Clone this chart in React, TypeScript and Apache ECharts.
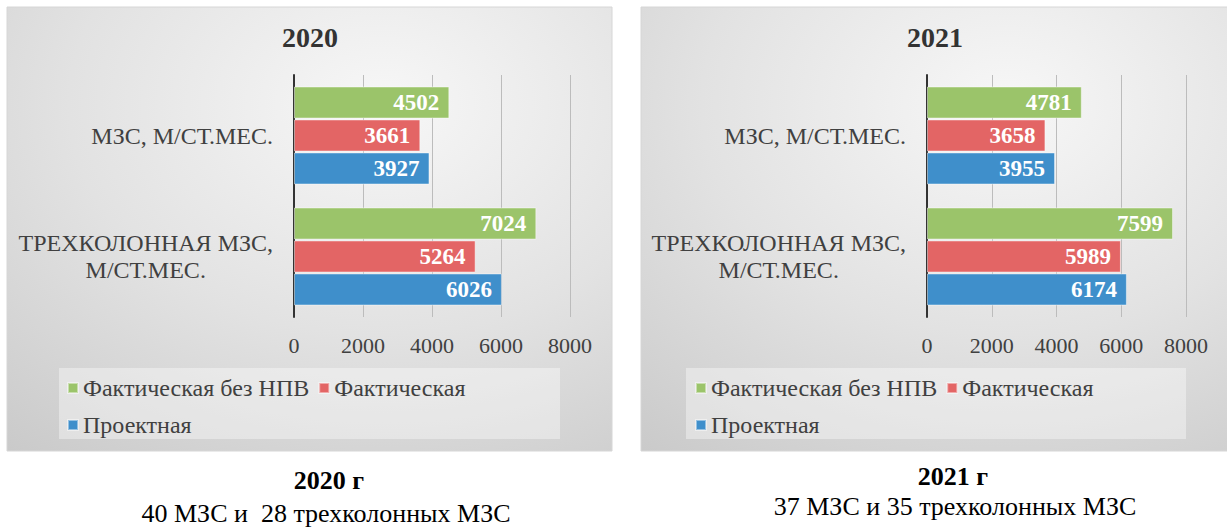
import React, { useEffect, useRef } from "react";
import * as echarts from "echarts";

const categories = ["МЗС, М/СТ.МЕС.", "ТРЕХКОЛОННАЯ МЗС,\nМ/СТ.МЕС."];
const seriesNames = ["Фактическая без НПВ", "Фактическая", "Проектная"];
const values2020 = {
  factNoNpv: [4502, 7024],
  fact: [3661, 5264],
  project: [3927, 6026],
};
const values2021 = {
  factNoNpv: [4781, 7599],
  fact: [3658, 5989],
  project: [3955, 6174],
};
const xTicks = { min: 0, max: 8000, interval: 2000 };
const panelTitles = ["2020", "2021"];
const captionTitles = ["2020 г", "2021 г"];
const captionTexts = ["40 МЗС и  28 трехколонных МЗС", "37 МЗС и 35 трехколонных МЗС"];

const FONT = '"Liberation Serif", "Times New Roman", serif';
const COLORS = ["#9bc46a", "#e36565", "#3f8fcb"];
const TEXT = "#404040";

function panelFill() {
  return new echarts.graphic.RadialGradient(0.62, 0.22, 1.15, [
    { offset: 0, color: "#f7f7f7" },
    { offset: 0.45, color: "#e2e2e2" },
    { offset: 1, color: "#c2c2c2" },
  ]);
}

export default function App() {
  const ref = useRef<HTMLDivElement>(null);
  useEffect(() => {
    if (!ref.current) return;
    const chart = echarts.init(ref.current, undefined, { renderer: "svg" });

    const grids = [
      { left: 294, top: 75, width: 276, height: 242 },
      { left: 927, top: 75, width: 259, height: 242 },
    ];
    const datasets = [values2020, values2021];

    const xAxes = grids.map((_, i) => ({
      type: "value",
      gridIndex: i,
      min: xTicks.min,
      max: xTicks.max,
      interval: xTicks.interval,
      axisLine: { show: false },
      axisTick: { show: false },
      splitLine: { show: true, lineStyle: { color: "#bcbcbc", width: 1 } },
      axisLabel: {
        fontSize: 22,
        color: TEXT,
        fontFamily: FONT,
        margin: 17,
        formatter: (v: number) => String(v),
      },
    }));

    const yAxes = grids.map((_, i) => ({
      type: "category",
      gridIndex: i,
      inverse: true,
      data: categories,
      axisLine: { show: true, lineStyle: { color: "#333333", width: 2 } },
      axisTick: { show: false },
      splitLine: { show: false },
      axisLabel: {
        margin: 21,
        color: TEXT,
        fontFamily: FONT,
        fontSize: 24,
        formatter: (v: string) =>
          v
            .split("\n")
            .map((l) => "{a|" + l + "}")
            .join("\n"),
        rich: {
          a: {
            fontSize: 24,
            lineHeight: 27,
            fontFamily: FONT,
            color: TEXT,
            align: "center",
          },
        },
      },
    }));

    const series: any[] = [];
    datasets.forEach((d, i) => {
      const arrs = [d.factNoNpv, d.fact, d.project];
      arrs.forEach((arr, k) => {
        series.push({
          type: "bar",
          name: seriesNames[k],
          xAxisIndex: i,
          yAxisIndex: i,
          data: arr,
          barGap: "3%",
          barCategoryGap: "19%",
          itemStyle: {
            color: COLORS[k],
            borderColor: "rgba(255,255,255,0.45)",
            borderWidth: 1,
          },
          label: {
            show: true,
            position: "insideRight",
            distance: 10,
            color: "#ffffff",
            fontFamily: FONT,
            fontWeight: "bold",
            fontSize: 23,
          },
        });
      });
    });

    const legendBase = {
      orient: "horizontal",
      top: 374,
      width: 400,
      padding: 0,
      itemWidth: 10,
      itemHeight: 10,
      itemGap: 9,
      icon: "rect",
      data: seriesNames,
      textStyle: { fontSize: 24, color: TEXT, fontFamily: FONT, lineHeight: 28 },
    };

    const captionStyle = (text: string, bold: boolean) => ({
      text,
      fill: "#000000",
      font: (bold ? "bold " : "") + '26px "Liberation Serif", serif',
      align: "center",
      verticalAlign: "middle",
    });

    const option: any = {
      animation: false,
      title: [
        {
          text: panelTitles[0],
          left: 310,
          top: 23,
          textAlign: "center",
          padding: 0,
          textStyle: { fontSize: 28, fontWeight: "bold", color: "#333333", fontFamily: FONT },
        },
        {
          text: panelTitles[1],
          left: 935,
          top: 23,
          textAlign: "center",
          padding: 0,
          textStyle: { fontSize: 28, fontWeight: "bold", color: "#333333", fontFamily: FONT },
        },
      ],
      legend: [
        { ...legendBase, left: 67 },
        { ...legendBase, left: 695 },
      ],
      grid: grids,
      xAxis: xAxes,
      yAxis: yAxes,
      series,
      graphic: [
        {
          type: "rect",
          z: -10,
          silent: true,
          shape: { x: 7, y: 7, width: 605, height: 444 },
          style: { fill: panelFill(), stroke: "#d6d6d6", lineWidth: 1 },
        },
        {
          type: "rect",
          z: -10,
          silent: true,
          shape: { x: 641, y: 7, width: 590, height: 444 },
          style: { fill: panelFill(), stroke: "#d6d6d6", lineWidth: 1 },
        },
        {
          type: "rect",
          z: -9,
          silent: true,
          shape: { x: 59, y: 368, width: 501, height: 71 },
          style: { fill: "rgba(255,255,255,0.38)" },
        },
        {
          type: "rect",
          z: -9,
          silent: true,
          shape: { x: 686, y: 368, width: 500, height: 71 },
          style: { fill: "rgba(255,255,255,0.38)" },
        },
        { type: "text", x: 329, y: 480, style: captionStyle(captionTitles[0], true) },
        { type: "text", x: 326, y: 513, style: captionStyle(captionTexts[0], false) },
        { type: "text", x: 953, y: 476, style: captionStyle(captionTitles[1], true) },
        { type: "text", x: 955, y: 506, style: captionStyle(captionTexts[1], false) },
      ],
    };

    chart.setOption(option);
    return () => chart.dispose();
  }, []);

  return (
    <div
      ref={ref}
      style={{ position: "fixed", left: 0, top: 0, width: 1227, height: 528, background: "#ffffff" }}
    />
  );
}
